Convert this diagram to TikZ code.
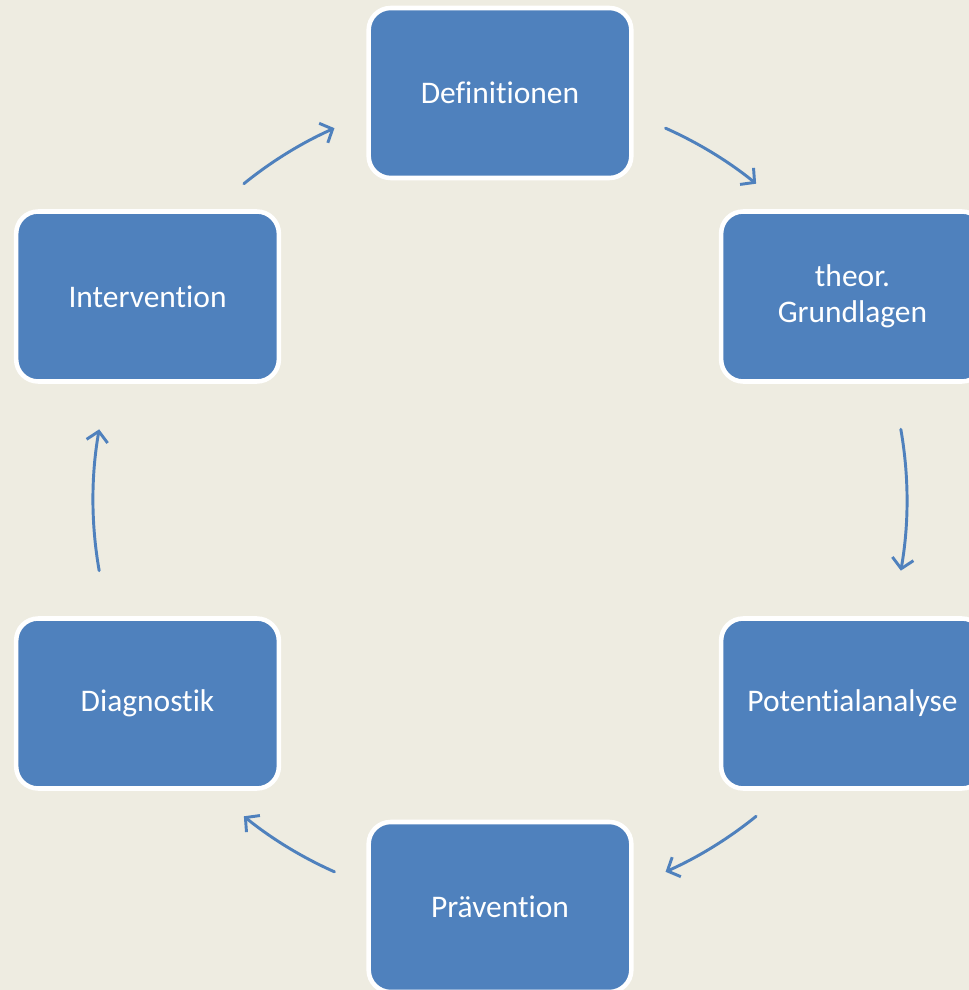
\documentclass[tikz,border=0pt]{standalone}
\usepackage{fontspec}
\setmainfont[Ligatures={NoCommon,NoContextual},RawFeature={-clig;-dlig}]{Carlito}
\usetikzlibrary{arrows.meta,calc}
\definecolor{officeBlue}{HTML}{4F81BD}
\definecolor{officeBg}{HTML}{EEECE1}
\tikzset{
	stage/.style={rounded corners=16.5pt, fill=officeBlue, draw=white, line width=3.4pt,
		minimum width=197pt, minimum height=127.5pt, text=white, align=center,
		font=\fontsize{23.6}{27}\selectfont},
	flow/.style={officeBlue, line width=2.2pt, -{Straight Barb[length=7.5pt,width=16pt,line width=2.2pt]}}
}
\begin{document}
\begin{tikzpicture}[x=0.75pt,y=0.75pt,line join=round,line cap=round]
	\def\r{407}
	\useasboundingbox (0,0) rectangle (969,990);
	\clip (0,0) rectangle (969,990);
	\fill [officeBg] (0,0) rectangle (969,990);
	\coordinate (c) at (500,490);
	%
	\node [stage] (defs) at ($(c)+(90:\r)$) {Definitionen};
	\node [stage] (theory) at ($(c)+(30:\r)$) {theor.\\Grundlagen};
	\node [stage] (potential) at ($(c)+(-30:\r)$) {Potentialanalyse};
	\node [stage] (prevention) at ($(c)+(-90:\r)$) {Prävention};
	\node [stage] (diagnostics) at ($(c)+(-150:\r)$) {Diagnostik};
	\node [stage] (intervention) at ($(c)+(150:\r)$) {Intervention};
	%
	\foreach \s/\e [count=\i] in {66/51, 10/-10, -51/-66, -114/-129, -170/-190, 129/114} {
		\coordinate (arc\i) at ($(c)+(\s:\r)$);
		\draw [flow] (arc\i) arc [start angle=\s, end angle=\e, radius=\r];
	}
\end{tikzpicture}
\end{document}
